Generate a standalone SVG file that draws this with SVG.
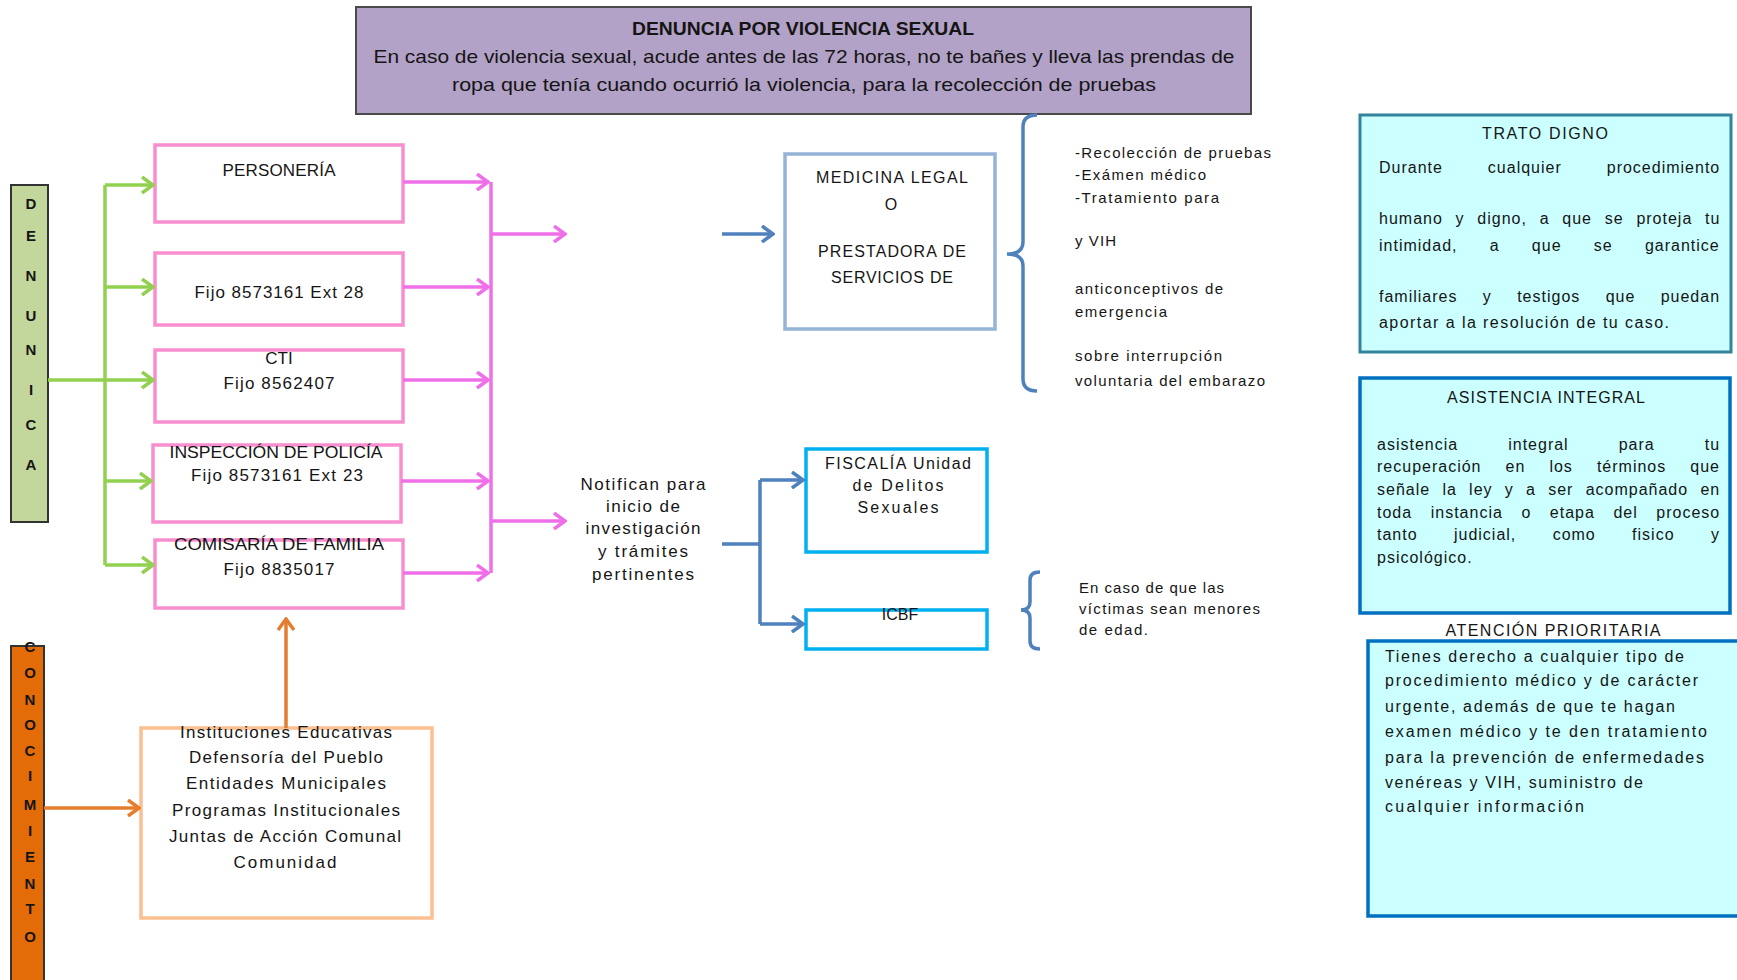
<svg xmlns="http://www.w3.org/2000/svg" width="1737" height="980" viewBox="0 0 1737 980">
<style>
text{font-family:"Liberation Sans",Arial,sans-serif;fill:#151515}
.c{text-anchor:middle}
.t17{font-size:17px}
.t16{font-size:16px}
.t15{font-size:15px}
.bx{font-size:16px;letter-spacing:1px}
.lt{font-size:15px;font-weight:bold}
.pk{fill:#fff;stroke:#f78fcf;stroke-width:3.5}
.g{stroke:#92d050;stroke-width:3.5;fill:none}
.p{stroke:#ef6fe9;stroke-width:3.5;fill:none}
.b{stroke:#4f81bd;stroke-width:3.5;fill:none}
.o{stroke:#e47d2e;stroke-width:3.5;fill:none}
</style>
<defs>
<marker id="ag" viewBox="0 0 14 18" refX="12" refY="9" markerWidth="14" markerHeight="18" markerUnits="userSpaceOnUse" orient="auto"><path d="M1,1 L12,9 L1,17" fill="none" stroke="#92d050" stroke-width="3.5"/></marker>
<marker id="ap" viewBox="0 0 14 18" refX="12" refY="9" markerWidth="14" markerHeight="18" markerUnits="userSpaceOnUse" orient="auto"><path d="M1,1 L12,9 L1,17" fill="none" stroke="#ef6fe9" stroke-width="3.5"/></marker>
<marker id="ab" viewBox="0 0 14 18" refX="12" refY="9" markerWidth="14" markerHeight="18" markerUnits="userSpaceOnUse" orient="auto"><path d="M1,1 L12,9 L1,17" fill="none" stroke="#4f81bd" stroke-width="3.5"/></marker>
<marker id="ao" viewBox="0 0 14 18" refX="12" refY="9" markerWidth="14" markerHeight="18" markerUnits="userSpaceOnUse" orient="auto"><path d="M1,1 L12,9 L1,17" fill="none" stroke="#e47d2e" stroke-width="3.5"/></marker>
</defs>
<rect width="1737" height="980" fill="#fff"/>

<g id="title">
<rect x="356" y="7" width="895" height="107" fill="#b3a2c7" stroke="#4a4a4a" stroke-width="2"/>
<text x="803" y="35" class="c" font-size="19" font-weight="bold" textLength="342" lengthAdjust="spacingAndGlyphs">DENUNCIA POR VIOLENCIA SEXUAL</text>
<text x="804" y="63" class="c" font-size="19" textLength="861" lengthAdjust="spacingAndGlyphs">En caso de violencia sexual, acude antes de las 72 horas, no te bañes y lleva las prendas de</text>
<text x="804" y="91" class="c" font-size="19" textLength="704" lengthAdjust="spacingAndGlyphs">ropa que tenía cuando ocurrió la violencia, para la recolección de pruebas</text>
</g>

<g id="denuncia">
<rect x="11" y="185" width="37" height="337" fill="#c3d69b" stroke="#333" stroke-width="2"/>
<text class="c lt" x="31" y="209">D</text>
<text class="c lt" x="31" y="241">E</text>
<text class="c lt" x="31" y="281">N</text>
<text class="c lt" x="31" y="321">U</text>
<text class="c lt" x="31" y="355">N</text>
<text class="c lt" x="31" y="395">I</text>
<text class="c lt" x="31" y="430">C</text>
<text class="c lt" x="31" y="470">A</text>
</g>

<g id="conocimiento">
<rect x="11" y="646" width="33" height="340" fill="#e36c09" stroke="#333" stroke-width="2"/>
<text class="c lt" x="30" y="652">C</text>
<text class="c lt" x="30" y="678">O</text>
<text class="c lt" x="30" y="705">N</text>
<text class="c lt" x="30" y="730">O</text>
<text class="c lt" x="30" y="756">C</text>
<text class="c lt" x="30" y="781">I</text>
<text class="c lt" x="30" y="810">M</text>
<text class="c lt" x="30" y="836">I</text>
<text class="c lt" x="30" y="862">E</text>
<text class="c lt" x="30" y="889">N</text>
<text class="c lt" x="30" y="914">T</text>
<text class="c lt" x="30" y="942">O</text>
</g>

<g id="personeria">
<rect class="pk" x="155" y="145" width="248" height="77"/>
<text class="c t17" x="279" y="176" textLength="113" lengthAdjust="spacing">PERSONERÍA</text>
</g>
<g id="fijo28">
<rect class="pk" x="155" y="253" width="248" height="72"/>
<text class="c t17" x="279" y="298" textLength="169" lengthAdjust="spacing">Fijo 8573161 Ext 28</text>
</g>
<g id="cti">
<rect class="pk" x="155" y="350" width="248" height="72"/>
<text class="c t17" x="279" y="364">CTI</text>
<text class="c t17" x="279" y="389" textLength="111" lengthAdjust="spacing">Fijo 8562407</text>
</g>
<g id="inspeccion">
<rect class="pk" x="153" y="445" width="248" height="77"/>
<text class="c t17" x="276" y="458" textLength="213" lengthAdjust="spacingAndGlyphs">INSPECCIÓN DE POLICÍA</text>
<text class="c t17" x="277" y="481" textLength="172" lengthAdjust="spacing">Fijo 8573161 Ext 23</text>
</g>
<g id="comisaria">
<rect class="pk" x="155" y="540" width="248" height="68"/>
<text class="c t17" x="279" y="550" textLength="210" lengthAdjust="spacingAndGlyphs">COMISARÍA DE FAMILIA</text>
<text class="c t17" x="279" y="575" textLength="111" lengthAdjust="spacing">Fijo 8835017</text>
</g>

<g id="instituciones">
<rect x="141" y="728" width="291" height="190" fill="#fff" stroke="#fac090" stroke-width="3.5"/>
<text class="c t17" x="286" y="738" textLength="212" lengthAdjust="spacing">Instituciones Educativas</text>
<text class="c t17" x="286" y="763" textLength="194" lengthAdjust="spacing">Defensoría del Pueblo</text>
<text class="c t17" x="286" y="789" textLength="200" lengthAdjust="spacing">Entidades Municipales</text>
<text class="c t17" x="286" y="816" textLength="228" lengthAdjust="spacing">Programas Institucionales</text>
<text class="c t17" x="285" y="842" textLength="232" lengthAdjust="spacing">Juntas de Acción Comunal</text>
<text class="c t17" x="285" y="868" textLength="103" lengthAdjust="spacing">Comunidad</text>
</g>

<g id="medicina">
<rect x="785" y="154" width="210" height="175" fill="#fff" stroke="#95b3d7" stroke-width="3.5"/>
<text class="c t16" x="892" y="183" textLength="152" lengthAdjust="spacing">MEDICINA LEGAL</text>
<text class="c t16" x="891" y="210">O</text>
<text class="c t16" x="892" y="257" textLength="148" lengthAdjust="spacing">PRESTADORA DE</text>
<text class="c t16" x="892" y="283" textLength="122" lengthAdjust="spacing">SERVICIOS DE</text>
</g>

<g id="medicina-notas">
<text class="t15" x="1075" y="158" textLength="196" lengthAdjust="spacing">-Recolección de pruebas</text>
<text class="t15" x="1075" y="180" textLength="131" lengthAdjust="spacing">-Exámen médico</text>
<text class="t15" x="1075" y="203" textLength="144" lengthAdjust="spacing">-Tratamiento para</text>
<text class="t15" x="1075" y="246" textLength="41" lengthAdjust="spacing">y VIH</text>
<text class="t15" x="1075" y="294" textLength="148" lengthAdjust="spacing">anticonceptivos de</text>
<text class="t15" x="1075" y="317" textLength="92" lengthAdjust="spacing">emergencia</text>
<text class="t15" x="1075" y="361" textLength="147" lengthAdjust="spacing">sobre interrupción</text>
<text class="t15" x="1075" y="386" textLength="190" lengthAdjust="spacing">voluntaria del embarazo</text>
</g>

<g id="notifican">
<text class="c t17" x="643" y="490" textLength="125" lengthAdjust="spacing">Notifican para</text>
<text class="c t17" x="643" y="512" textLength="74" lengthAdjust="spacing">inicio de</text>
<text class="c t17" x="643" y="534" textLength="115" lengthAdjust="spacing">investigación</text>
<text class="c t17" x="643" y="557" textLength="90" lengthAdjust="spacing">y trámites</text>
<text class="c t17" x="643" y="580" textLength="102" lengthAdjust="spacing">pertinentes</text>
</g>

<g id="fiscalia">
<rect x="806" y="449" width="181" height="103" fill="#fff" stroke="#00b0f0" stroke-width="3.5"/>
<text class="c t16" x="898" y="469" textLength="146" lengthAdjust="spacing">FISCALÍA Unidad</text>
<text class="c t16" x="898" y="491" textLength="91" lengthAdjust="spacing">de Delitos</text>
<text class="c t16" x="898" y="513" textLength="81" lengthAdjust="spacing">Sexuales</text>
</g>

<g id="icbf">
<rect x="806" y="610" width="181" height="39" fill="#fff" stroke="#00b0f0" stroke-width="3.5"/>
<text class="c t16" x="900" y="620">ICBF</text>
</g>

<g id="icbf-nota">
<text class="t15" x="1079" y="593" textLength="145" lengthAdjust="spacing">En caso de que las</text>
<text class="t15" x="1079" y="614" textLength="181" lengthAdjust="spacing">víctimas sean menores</text>
<text class="t15" x="1079" y="635" textLength="69" lengthAdjust="spacing">de edad.</text>
</g>

<g id="trato-digno">
<rect x="1360" y="115" width="371" height="237" fill="#ccffff" stroke="#31849b" stroke-width="3"/>
<text class="c t16" x="1545" y="139" textLength="126" lengthAdjust="spacing">TRATO DIGNO</text>
<text class="bx" x="1379" y="173" word-spacing="39.5">Durante cualquier procedimiento</text>
<text class="bx" x="1379" y="224" word-spacing="7.3">humano y digno, a que se proteja tu</text>
<text class="bx" x="1379" y="251" word-spacing="26.8">intimidad, a que se garantice</text>
<text class="bx" x="1379" y="302" word-spacing="19.9">familiares y testigos que puedan</text>
<text class="bx" x="1379" y="328" textLength="291" lengthAdjust="spacing">aportar a la resolución de tu caso.</text>
</g>

<g id="asistencia">
<rect x="1360" y="378" width="370" height="235" fill="#ccffff" stroke="#0070c0" stroke-width="3.5"/>
<text class="c t16" x="1546" y="403" textLength="198" lengthAdjust="spacing">ASISTENCIA INTEGRAL</text>
<text class="bx" x="1377" y="450" word-spacing="44.6">asistencia integral para tu</text>
<text class="bx" x="1377" y="472" word-spacing="18.6">recuperación en los términos que</text>
<text class="bx" x="1377" y="495" word-spacing="6.8">señale la ley y a ser acompañado en</text>
<text class="bx" x="1377" y="518" word-spacing="13.1">toda instancia o etapa del proceso</text>
<text class="bx" x="1377" y="540" word-spacing="30.9">tanto judicial, como fisico y</text>
<text class="bx" x="1377" y="563">psicológico.</text>
</g>

<g id="atencion">
<text class="c t16" x="1553" y="636" textLength="215" lengthAdjust="spacing">ATENCIÓN PRIORITARIA</text>
<rect x="1368" y="641" width="375" height="275" fill="#ccffff" stroke="#0070c0" stroke-width="3.5"/>
<text class="t16" x="1385" y="662" textLength="299" lengthAdjust="spacing">Tienes derecho a cualquier tipo de</text>
<text class="t16" x="1385" y="686" textLength="313" lengthAdjust="spacing">procedimiento médico y de carácter</text>
<text class="t16" x="1385" y="712" textLength="290" lengthAdjust="spacing">urgente, además de que te hagan</text>
<text class="t16" x="1385" y="737" textLength="322" lengthAdjust="spacing">examen médico y te den tratamiento</text>
<text class="t16" x="1385" y="763" textLength="319" lengthAdjust="spacing">para la prevención de enfermedades</text>
<text class="t16" x="1385" y="788" textLength="258" lengthAdjust="spacing">venéreas y VIH, suministro de</text>
<text class="t16" x="1385" y="812" textLength="199" lengthAdjust="spacing">cualquier información</text>
</g>

<g id="connectors">
<path class="g" d="M48,380 H105 M105,185 V565"/>
<path class="g" d="M105,185 H153" marker-end="url(#ag)"/>
<path class="g" d="M105,287 H153" marker-end="url(#ag)"/>
<path class="g" d="M105,380 H153" marker-end="url(#ag)"/>
<path class="g" d="M105,481 H151" marker-end="url(#ag)"/>
<path class="g" d="M105,565 H153" marker-end="url(#ag)"/>

<path class="p" d="M491,182 V573"/>
<path class="p" d="M403,182 H488" marker-end="url(#ap)"/>
<path class="p" d="M403,287 H488" marker-end="url(#ap)"/>
<path class="p" d="M403,380 H488" marker-end="url(#ap)"/>
<path class="p" d="M401,481 H488" marker-end="url(#ap)"/>
<path class="p" d="M403,573 H488" marker-end="url(#ap)"/>
<path class="p" d="M491,234 H565" marker-end="url(#ap)"/>
<path class="p" d="M491,521 H565" marker-end="url(#ap)"/>

<path class="b" d="M722,234 H773" marker-end="url(#ab)"/>
<path class="b" d="M722,544 H760 M760,480 V624"/>
<path class="b" d="M760,480 H803" marker-end="url(#ab)"/>
<path class="b" d="M760,624 H803" marker-end="url(#ab)"/>
<path class="b" d="M1037,115 Q1023,115 1023,127 L1023,242 Q1023,254 1007,254 Q1023,254 1023,266 L1023,379 Q1023,391 1037,391"/>
<path class="b" d="M1040,572 Q1030,572 1030,580 L1030,602 Q1030,610 1021,610 Q1030,610 1030,618 L1030,641 Q1030,649 1040,649"/>

<path class="o" d="M44,808 H139" marker-end="url(#ao)"/>
<path class="o" d="M286,728 V619" marker-end="url(#ao)"/>
</g>
</svg>
